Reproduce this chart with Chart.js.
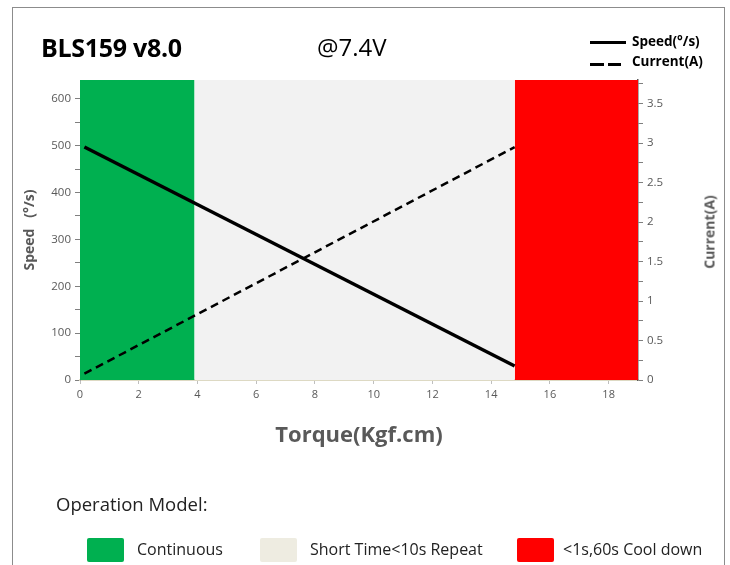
<!DOCTYPE html>
<html><head><meta charset="utf-8">
<script src="https://cdn.jsdelivr.net/npm/chart.js@4"></script>
<style>
html,body{margin:0;padding:0;background:#fff;}
#wrap{position:relative;width:730px;height:565px;overflow:hidden;font-family:"Open Sans","Noto Sans",sans-serif;}
#frame{position:absolute;left:12px;top:7px;width:713px;height:600px;border:1px solid #8c8c8c;box-sizing:border-box;}
canvas{position:absolute;left:0;top:0;}
.t{position:absolute;white-space:nowrap;}
.box{position:absolute;width:37px;height:24px;border-radius:2px;}
</style></head>
<body><div id="wrap">
<div id="frame"></div>
<canvas id="c" width="730" height="565"></canvas>
<div class="t" style="left:41px;top:30px;font-size:25px;font-weight:bold;color:#000;letter-spacing:-0.3px;">BLS159 v8.0</div>
<div class="t" style="left:317px;top:30px;font-size:24px;color:#000;">@7.4V</div>
<div style="position:absolute;left:590px;top:41px;width:36px;height:3px;background:#000;"></div>
<div class="t" style="left:632px;top:32px;font-size:13.5px;font-weight:bold;color:#000;">Speed(°/s)</div>
<div style="position:absolute;left:590px;top:63px;width:14px;height:3px;background:#000;"></div>
<div style="position:absolute;left:608px;top:63px;width:13px;height:3px;background:#000;"></div>
<div class="t" style="left:632px;top:52px;font-size:13.5px;font-weight:bold;color:#000;">Current(A)</div>
<div class="t" style="left:700px;top:232px;font-size:14px;font-weight:bold;color:#595959;transform:translate(-50%,-50%) rotate(-90deg);left:709px;">Current(A)</div>
<div class="t" style="left:56px;top:491px;font-size:18.5px;color:#222;">Operation Model:</div>
<div id="leg"></div>
</div>
<script>
const torque = [0.15, 14.8];
const speed = [497, 30];
const current = [0.08, 2.95];
const zoneStart = [0, 3.9, 14.8];
const zoneEnd = [3.9, 14.8, 19];
const zoneNames = ["Continuous", "Short Time<10s Repeat", "<1s,60s Cool down"];
const zoneColors = ["#00b050", "#f2f2f2", "#ff0000"];
const zoneLegendColors = ["#00b050", "#eeece1", "#ff0000"];
const xTicks = [0, 2, 4, 6, 8, 10, 12, 14, 16, 18];
const speedTicks = [0, 100, 200, 300, 400, 500, 600];
const currentTicks = [0, 0.5, 1, 1.5, 2, 2.5, 3, 3.5];
const speedMax = 640, currentMax = 3.8, torqueMax = 19;

const legBoxX = [87, 260, 517];
const legTextX = [137, 310, 563];
const leg = document.getElementById('leg');
zoneNames.forEach((n, i) => {
  const b = document.createElement('div'); b.className = 'box';
  b.style.left = legBoxX[i] + 'px'; b.style.top = '538px'; b.style.background = zoneLegendColors[i];
  leg.appendChild(b);
  const t = document.createElement('div'); t.className = 't';
  t.style.left = legTextX[i] + 'px'; t.style.top = '538px'; t.style.fontSize = '16px'; t.style.color = '#222';
  t.textContent = n; leg.appendChild(t);
});

const zoneSets = zoneNames.map((n, i) => ({
  type: 'line', label: n, yAxisID: 'y',
  data: [{x: zoneStart[i], y: speedMax}, {x: zoneEnd[i], y: speedMax}],
  fill: 'origin', backgroundColor: zoneColors[i], borderWidth: 0, pointRadius: 0, order: 10
}));

const tickColor = '#595959';
const FONT = '"Open Sans","Noto Sans",sans-serif';
new Chart(document.getElementById('c'), {
  type: 'line',
  data: {
    datasets: [
      {label: 'Speed(°/s)', yAxisID: 'y', data: torque.map((t, i) => ({x: t, y: speed[i]})),
       borderColor: '#000', borderWidth: 3.5, pointRadius: 0, fill: false, order: 1},
      {label: 'Current(A)', yAxisID: 'y2', data: torque.map((t, i) => ({x: t, y: current[i]})),
       borderColor: '#000', borderWidth: 2.5, borderDash: [8, 5], pointRadius: 0, fill: false, order: 2},
      ...zoneSets
    ]
  },
  options: {
    responsive: false, animation: false,
    layout: {padding: {left: 18, right: 12, top: 80, bottom: 112}},
    plugins: {legend: {display: false}, tooltip: {enabled: false}},
    scales: {
      x: {type: 'linear', min: 0, max: torqueMax,
        afterBuildTicks: s => { s.ticks = xTicks.map(v => ({value: v})); },
        afterFit: s => { s.height = 73; },
        grid: {drawOnChartArea: false, drawTicks: true, tickLength: 4, color: '#bfbfbf'},
        border: {color: '#ddd9c3', width: 2},
        ticks: {color: tickColor, font: {family: FONT, size: 11}, padding: 4},
        title: {display: true, text: 'Torque(Kgf.cm)', color: tickColor, font: {family: FONT, size: 22, weight: 'bold'}, padding: {top: 6}}
      },
      y: {position: 'left', min: 0, max: speedMax,
        afterBuildTicks: s => { const a = []; for (let v = 0; v <= 600; v += 50) a.push({value: v}); s.ticks = a; },
        afterFit: s => { s.width = 62; },
        grid: {drawOnChartArea: false, drawTicks: true, tickLength: 5, color: '#7f7f7f'},
        border: {color: '#a6a6a6', width: 1},
        ticks: {color: tickColor, font: {family: FONT, size: 11.5}, padding: 4,
          callback: v => speedTicks.includes(v) ? String(v) : ''},
        title: {display: true, text: 'Speed   (°/s)', color: tickColor, font: {family: FONT, size: 14, weight: 'bold'}, padding: {bottom: 0}}
      },
      y2: {position: 'right', min: 0, max: currentMax,
        afterBuildTicks: s => { const a = []; for (let v = 0; v <= 3.75; v += 0.25) a.push({value: v}); s.ticks = a; },
        afterFit: s => { s.width = 80; },
        grid: {drawOnChartArea: false, drawTicks: true, tickLength: 5, color: '#7f7f7f'},
        border: {color: '#595959', width: 1.5},
        ticks: {color: tickColor, font: {family: FONT, size: 11.5}, padding: 4,
          callback: v => currentTicks.includes(Math.round(v * 100) / 100) ? String(v) : ''},
        title: {display: false}
      }
    }
  }
});
</script>
</body></html>
